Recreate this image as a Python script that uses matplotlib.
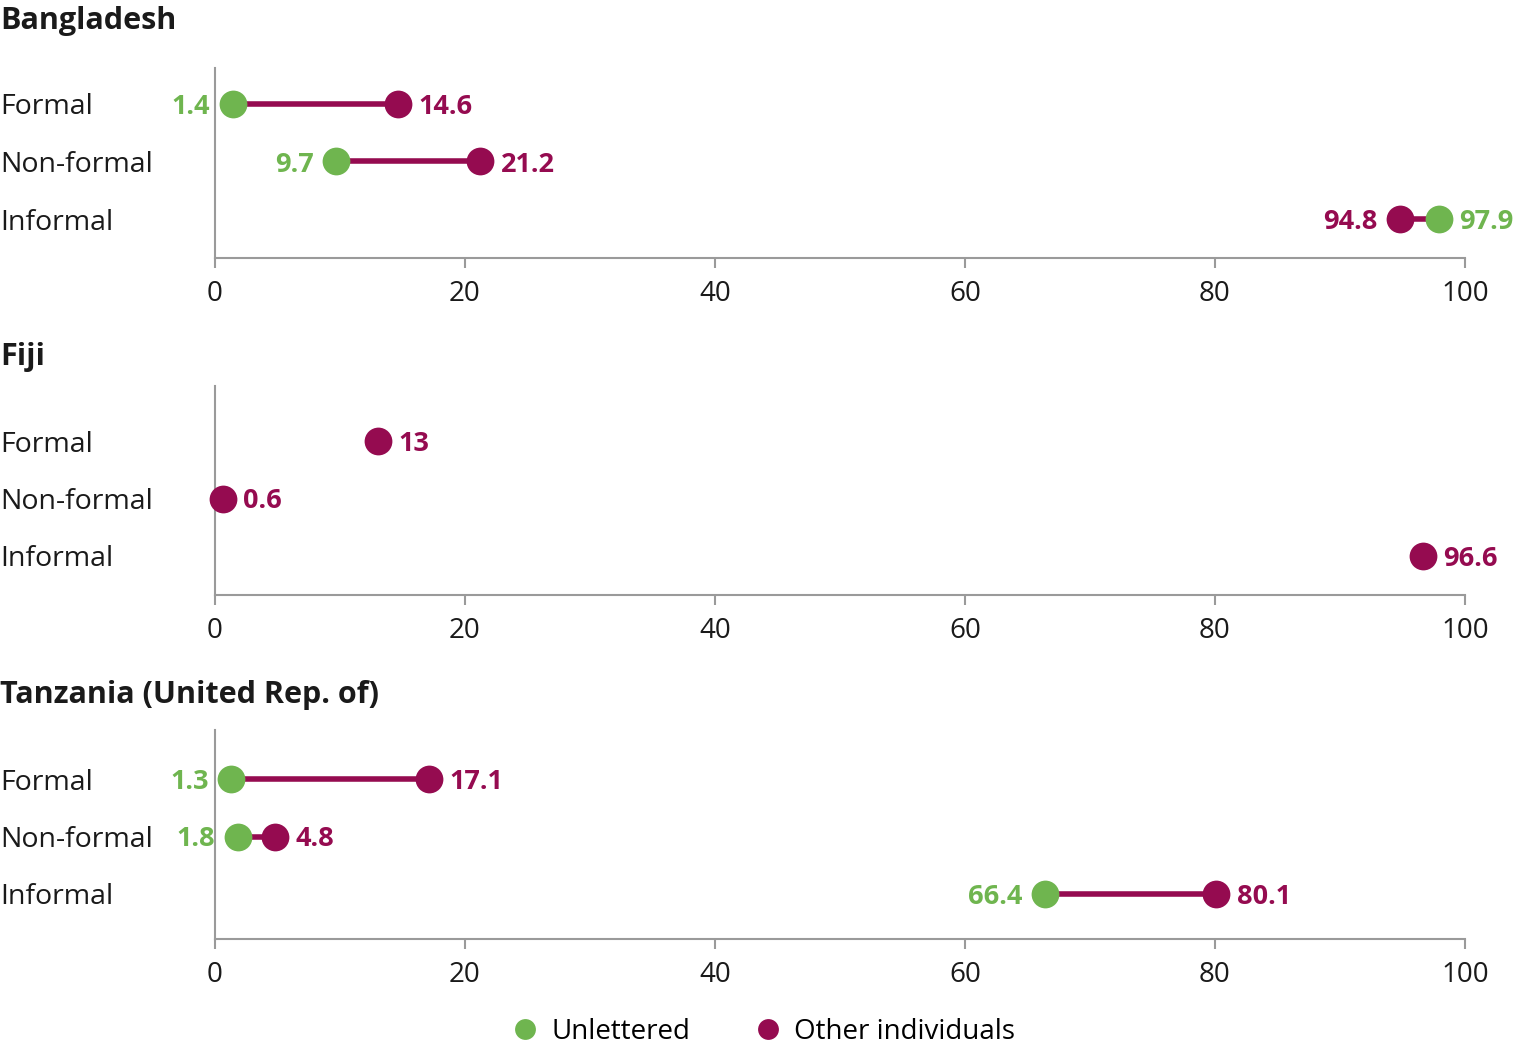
import matplotlib.pyplot as plt
import matplotlib.transforms as mtransforms
from matplotlib.lines import Line2D
import numpy as np

plt.rcParams['font.family'] = ['Open Sans', 'DejaVu Sans']

# data
countries = ['Bangladesh', 'Fiji', 'Tanzania (United Rep. of)']
categories = ['Formal', 'Non-formal', 'Informal']
unlettered = [[1.4, 9.7, 97.9],
              [np.nan, np.nan, np.nan],
              [1.3, 1.8, 66.4]]
other = [[14.6, 21.2, 94.8],
         [13, 0.6, 96.6],
         [17.1, 4.8, 80.1]]

green = '#6fb54f'
purple = '#950b50'
grey = '#9a9a9a'
W, H = 1522, 1054

fig = plt.figure(figsize=(W / 100, H / 100), dpi=100)

# panel geometry in pixels: (spine top, axis bottom, informal row y)
panels = [(68, 258, 219), (386, 595, 556), (730, 939, 894)]
title_y = [17, 353, 691]
step = 57.5  # pixels between rows
x0, x1 = 215, 1465

for i, (top, bot, inf_y) in enumerate(panels):
    ax = fig.add_axes([x0 / W, 1 - bot / H, (x1 - x0) / W, (bot - top) / H])
    off = (bot - inf_y) / step
    ax.set_ylim(-off, (bot - top) / step - off)
    ax.set_xlim(0, 100)
    for s in ['top', 'right']:
        ax.spines[s].set_visible(False)
    for s in ['left', 'bottom']:
        ax.spines[s].set_color(grey)
        ax.spines[s].set_linewidth(1.5)
    ax.set_yticks([])
    ax.set_xticks([0, 20, 40, 60, 80, 100])
    ax.tick_params(axis='x', length=7, width=1.5, color=grey, labelsize=20,
                   pad=9, labelcolor='#1a1a1a')

    trans = mtransforms.blended_transform_factory(fig.transFigure, ax.transData)
    for j, cat in enumerate(categories):
        y = 2 - j
        ax.text(0.0, y, cat, transform=trans, ha='left', va='center_baseline',
                fontsize=20.5, color='#1a1a1a')
        u = unlettered[i][j]
        o = other[i][j]
        if not np.isnan(u):
            ax.plot([u, o], [y, y], color=purple, lw=4, solid_capstyle='butt',
                    zorder=2, clip_on=False)
            ax.plot(u, y, 'o', color=green, ms=20, mew=0, zorder=3, clip_on=False)
        ax.plot(o, y, 'o', color=purple, ms=20, mew=0, zorder=3, clip_on=False)

        # labels: lower value on the left, higher on the right
        if np.isnan(u):
            pts = [(o, purple, 1)]
        elif u < o:
            pts = [(u, green, -1), (o, purple, 1)]
        else:
            pts = [(o, purple, -1), (u, green, 1)]
        for v, c, side in pts:
            ax.annotate(f'{v:g}', (v, y), xytext=(side * (15 if side > 0 else 16), 0),
                        textcoords='offset points',
                        ha='left' if side > 0 else 'right', va='center_baseline',
                        fontsize=19.5, fontweight='bold', color=c,
                        annotation_clip=False)

    fig.text(0.0, 1 - title_y[i] / H, countries[i], ha='left', va='center_baseline',
             fontsize=22, fontweight='bold', color='#1a1a1a')

handles = [Line2D([], [], marker='o', ls='', color=green, ms=15, mew=0),
           Line2D([], [], marker='o', ls='', color=purple, ms=15, mew=0)]
fig.legend(handles, ['Unlettered', 'Other individuals'], loc='center',
           bbox_to_anchor=(0.5015, 1 - 1032 / H), ncol=2, frameon=False,
           fontsize=20, handletextpad=0.45, columnspacing=2.3, handlelength=1.0)

fig.savefig('out.png', dpi=100, facecolor='white')
